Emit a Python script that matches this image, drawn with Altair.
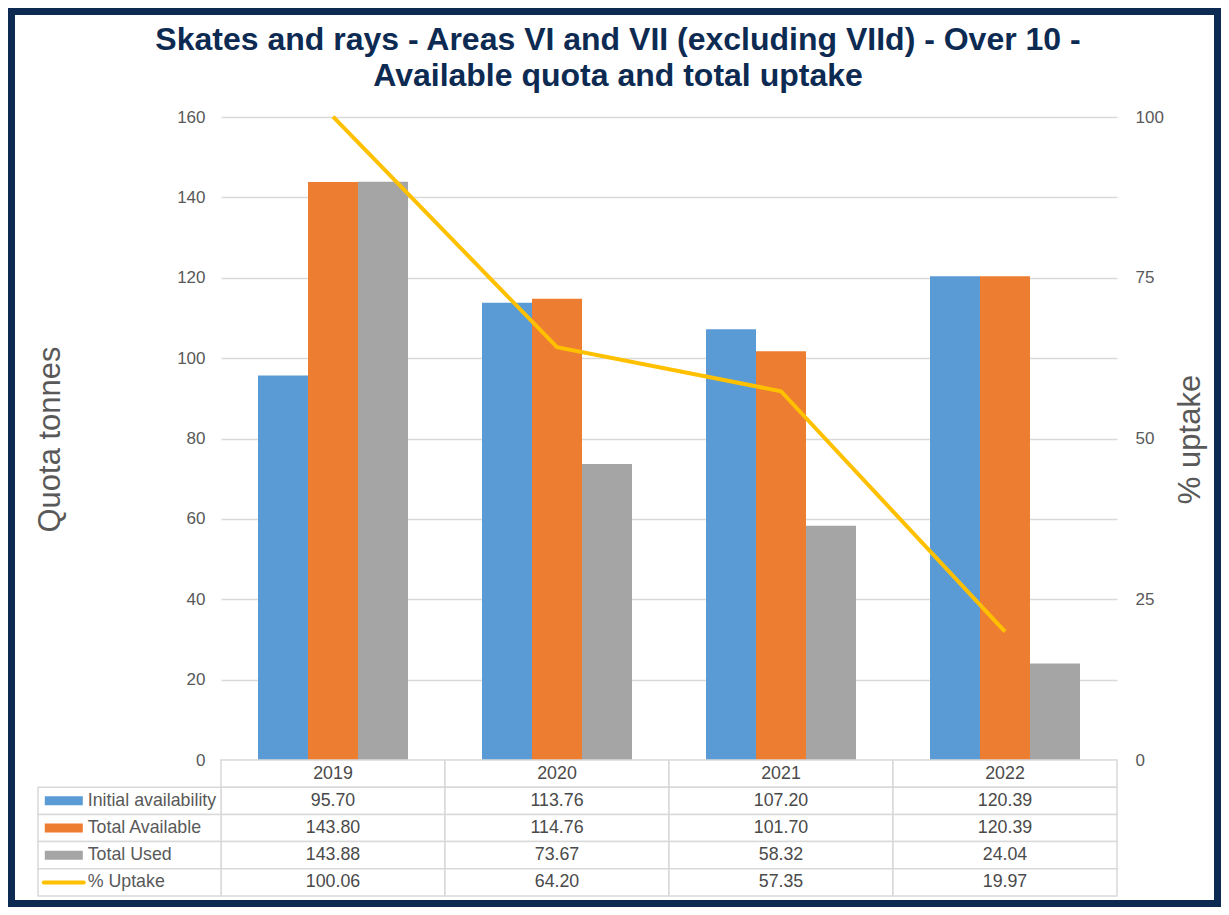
import altair as alt
import pandas as pd

# ---- data ----
years = ["2019", "2020", "2021", "2022"]
initial_availability = [95.70, 113.76, 107.20, 120.39]
total_available = [143.80, 114.76, 101.70, 120.39]
total_used = [143.88, 73.67, 58.32, 24.04]
pct_uptake = [100.06, 64.20, 57.35, 19.97]
series_names = ["Initial availability", "Total Available", "Total Used"]
line_name = "% Uptake"
bar_colors = ["#5b9bd5", "#ed7d31", "#a5a5a5"]
line_color = "#ffc000"
left_ticks = [0, 20, 40, 60, 80, 100, 120, 140, 160]
right_ticks = [0, 25, 50, 75, 100]
title_line1 = "Skates and rays - Areas VI and VII (excluding VIId) - Over 10 -"
title_line2 = "Available quota and total uptake"
left_title = "Quota tonnes"
right_title = "% uptake"

# ---- layout ----
W, H = 896, 643
PAD = {"left": 213, "top": 109, "right": 104, "bottom": 147}
FONT = "Liberation Sans"
NAVY = "#0d2b52"
GRAY_TXT = "#595959"
TABLE_TXT = "#4a4a4a"
GRID = "#d9d9d9"

series_values = [initial_availability, total_available, total_used]
bar_df = pd.DataFrame(
    [
        {"year": y, "series": s, "value": vals[i]}
        for s, vals in zip(series_names, series_values)
        for i, y in enumerate(years)
    ]
)
line_df = pd.DataFrame({"year": years, "uptake": pct_uptake})

row_domain = ["header"] + series_names + [line_name]
cells = []
for i, y in enumerate(years):
    cells.append({"year": y, "row": "header", "label": y})
    for s, vals in zip(series_names, series_values):
        cells.append({"year": y, "row": s, "label": f"{vals[i]:.2f}"})
    cells.append({"year": y, "row": line_name, "label": f"{pct_uptake[i]:.2f}"})
cell_df = pd.DataFrame(cells)
legend_df = pd.DataFrame({"row": series_names + [line_name]})
swatch_df = pd.DataFrame({"row": series_names, "series": series_names})
line_swatch_df = pd.DataFrame({"row": [line_name]})

x_scale = alt.Scale(type="band", domain=years, paddingInner=0, paddingOuter=0)
row_scale = alt.Scale(type="band", domain=row_domain, range=[H, H + 136],
                      paddingInner=0, paddingOuter=0)
color_scale = alt.Scale(domain=series_names, range=bar_colors)

# border
border = alt.Chart(pd.DataFrame({"a": [0]})).mark_rect(
    filled=False, stroke=NAVY, strokeWidth=7
).encode(
    x=alt.value(-PAD["left"] + 3.5),
    x2=alt.value(W + PAD["right"] - 3.5),
    y=alt.value(-PAD["top"] + 3.5),
    y2=alt.value(H + PAD["bottom"] - 3.5),
)

title1 = alt.Chart(pd.DataFrame({"t": [title_line1]})).mark_text(
    font=FONT, fontSize=32, fontWeight="bold", color=NAVY,
    align="center", baseline="alphabetic"
).encode(text="t:N", x=alt.value(397), y=alt.value(-67))
title2 = alt.Chart(pd.DataFrame({"t": [title_line2]})).mark_text(
    font=FONT, fontSize=32, fontWeight="bold", color=NAVY,
    align="center", baseline="alphabetic"
).encode(text="t:N", x=alt.value(397), y=alt.value(-31))

bars = alt.Chart(bar_df).mark_bar().encode(
    x=alt.X("year:N", scale=x_scale, axis=None),
    xOffset=alt.XOffset("series:N", sort=series_names,
                        scale=alt.Scale(domain=series_names, paddingInner=0, paddingOuter=0.74)),
    y=alt.Y(
        "value:Q",
        scale=alt.Scale(domain=[0, 160], nice=False),
        axis=alt.Axis(
            orient="left", values=left_ticks, grid=True, gridColor=GRID, gridWidth=1.5,
            domain=False, ticks=False, labelFont=FONT, labelFontSize=17,
            labelColor=GRAY_TXT, labelPadding=16,
            title=left_title, titleFont=FONT, titleFontSize=31, titleFontWeight="normal",
            titleColor=GRAY_TXT, titleAngle=270, titleX=-171, titleY=322,
            titleAlign="center", titleBaseline="middle",
        ),
    ),
    color=alt.Color("series:N", scale=color_scale, legend=None),
)

line = alt.Chart(line_df).mark_line(color=line_color, strokeWidth=4).encode(
    x=alt.X("year:N", scale=x_scale, axis=None),
    y=alt.Y(
        "uptake:Q",
        scale=alt.Scale(domain=[0, 100], nice=False),
        axis=alt.Axis(
            orient="right", values=right_ticks, grid=False, domain=False, ticks=False,
            labelFont=FONT, labelFontSize=17, labelColor=GRAY_TXT, labelPadding=18,
            title=right_title, titleFont=FONT, titleFontSize=31, titleFontWeight="normal",
            titleColor=GRAY_TXT, titleAngle=270, titleX=73, titleY=322,
            titleAlign="center", titleBaseline="middle",
        ),
    ),
)

cell_rects = alt.Chart(cell_df).mark_rect(fill="white", stroke=GRID, strokeWidth=1.5).encode(
    x=alt.X("year:N", scale=x_scale, axis=None),
    y=alt.Y("row:N", scale=row_scale, axis=None),
)
cell_text = alt.Chart(cell_df).mark_text(
    font=FONT, fontSize=17.8, color=TABLE_TXT, align="center", baseline="middle"
).encode(
    x=alt.X("year:N", scale=x_scale, axis=None),
    y=alt.Y("row:N", scale=row_scale, axis=None),
    text="label:N",
)
legend_rects = alt.Chart(legend_df).mark_rect(fill="white", stroke=GRID, strokeWidth=1.5).encode(
    x=alt.value(-183), x2=alt.value(0),
    y=alt.Y("row:N", scale=row_scale, axis=None),
)
legend_text = alt.Chart(legend_df).mark_text(
    font=FONT, fontSize=17.8, color=GRAY_TXT, align="left", baseline="middle"
).encode(
    x=alt.value(-133.3),
    y=alt.Y("row:N", scale=row_scale, axis=None),
    text="row:N",
)
swatches = alt.Chart(swatch_df).mark_point(
    shape="M-1,-0.24H1V0.24H-1Z", filled=True, size=1444, opacity=1
).encode(
    x=alt.value(-157.2),
    y=alt.Y("row:N", scale=row_scale, axis=None),
    color=alt.Color("series:N", scale=color_scale, legend=None),
)
line_swatch = alt.Chart(line_swatch_df).mark_point(
    shape="M-1,0H1", filled=False, size=1600, stroke=line_color, strokeWidth=4,
    strokeCap="round", opacity=1
).encode(
    x=alt.value(-157.2),
    y=alt.Y("row:N", scale=row_scale, axis=None),
)

chart = alt.layer(
    border, title1, title2, bars, line, cell_rects, cell_text,
    legend_rects, legend_text, swatches, line_swatch,
).resolve_scale(y="independent").properties(
    width=W, height=H,
    autosize=alt.AutoSizeParams(type="none"),
    padding=PAD,
    background="white",
).configure_view(stroke=None)

chart.save("out.html", embed_options={"renderer": "svg", "actions": False})
